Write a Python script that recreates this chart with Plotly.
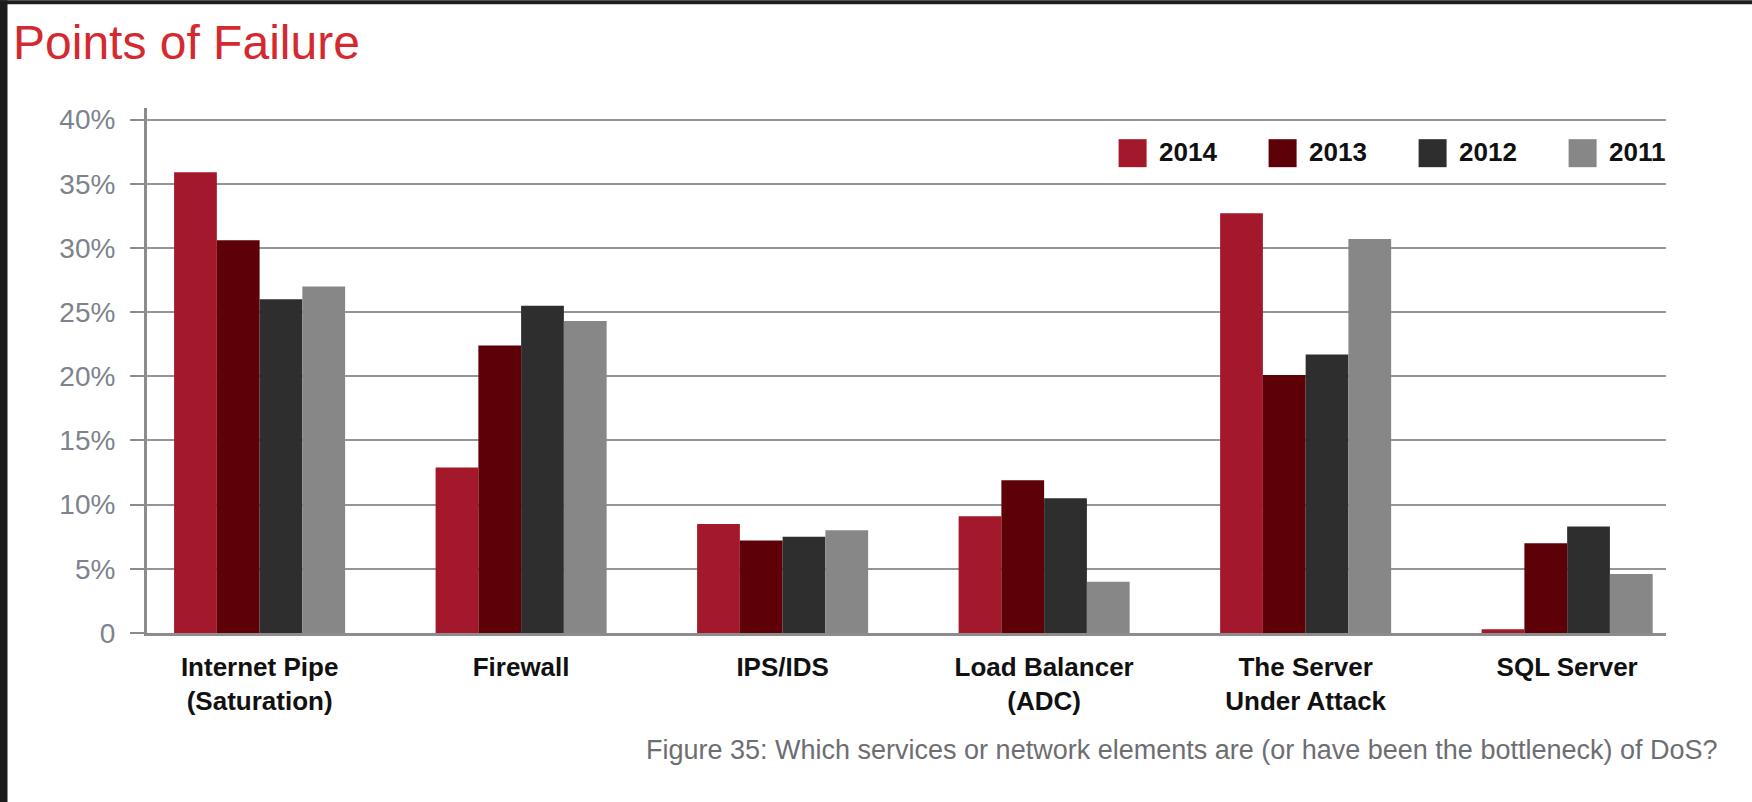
import plotly.graph_objects as go

# ---------------- data ----------------
categories = ["Internet Pipe<br>(Saturation)", "Firewall", "IPS/IDS",
              "Load Balancer<br>(ADC)", "The Server<br>Under Attack", "SQL Server"]
years = ["2014", "2013", "2012", "2011"]
v2014 = [35.9, 12.9, 8.5, 9.1, 32.7, 0.3]
v2013 = [30.6, 22.4, 7.2, 11.9, 20.1, 7.0]
v2012 = [26.0, 25.5, 7.5, 10.5, 21.7, 8.3]
v2011 = [27.0, 24.3, 8.0, 4.0, 30.7, 4.6]
y_tickvals = [0, 5, 10, 15, 20, 25, 30, 35, 40]
y_ticktext = ["0", "5%", "10%", "15%", "20%", "25%", "30%", "35%", "40%"]

series = [v2014, v2013, v2012, v2011]
colors = ["#a3182a", "#5e0007", "#2e2e2e", "#878787"]

# ---------------- layout constants (pixels) ----------------
W, H = 1752, 802
PL, PR = 147, 1666          # plot area left/right
PT, PB = 107.8, 633         # plot area top/bottom


def px_x(x):
    return (x - PL) / (PR - PL)


def px_y(y):
    return (PB - y) / (PB - PT)


fig = go.Figure()
idx = list(range(len(categories)))
for name, vals, col in zip(years, series, colors):
    fig.add_trace(go.Bar(x=idx, y=vals, name=name, marker=dict(color=col, line=dict(width=0)),
                         showlegend=False))

shapes = []
annotations = []

# manual legend (large square swatches like the reference)
for i, (name, col) in enumerate(zip(years, colors)):
    bx = 1118.6 + 150 * i
    shapes.append(dict(type="rect", xref="paper", yref="paper",
                       x0=px_x(bx), x1=px_x(bx + 28), y0=px_y(167), y1=px_y(139),
                       fillcolor=col, line=dict(width=0)))
    annotations.append(dict(text="<b>%s</b>" % name, xref="paper", yref="paper",
                            x=px_x(bx + 38), y=px_y(152), xanchor="left", yanchor="middle",
                            showarrow=False, font=dict(family="Liberation Sans, Arial", size=26, color="#111111")))

# caption
annotations.append(dict(text="Figure 35: Which services or network elements are (or have been the bottleneck) of DoS?",
                        xref="paper", yref="paper", x=px_x(1720), y=px_y(750),
                        xanchor="right", yanchor="middle", showarrow=False,
                        font=dict(family="Liberation Sans, Arial", size=27, color="#6d6e71")))

# dark frame on left and top edges
shapes.append(dict(type="rect", xref="paper", yref="paper", x0=px_x(0), x1=px_x(7.5),
                   y0=px_y(H), y1=px_y(0), fillcolor="#1c1c1c", line=dict(width=0), layer="above"))
shapes.append(dict(type="rect", xref="paper", yref="paper", x0=px_x(0), x1=px_x(W),
                   y0=px_y(4), y1=px_y(0), fillcolor="#1c1c1c", line=dict(width=0), layer="above"))

fig.update_layout(
    width=W, height=H,
    margin=dict(l=PL, r=W - PR, t=PT, b=H - PB, pad=0),
    paper_bgcolor="white", plot_bgcolor="white",
    barmode="group", bargap=0.346, bargroupgap=0,
    title=dict(text="Points of Failure", x=13 / W, xanchor="left", xref="container",
               y=1 - 42 / H, yanchor="middle", yref="container",
               font=dict(family="Liberation Sans, Arial", size=48, color="#d42a2f")),
    shapes=shapes, annotations=annotations,
    xaxis=dict(range=[-0.4306, 5.378], tickmode="array", tickvals=idx, ticktext=["<b>%s</b>" % c for c in categories],
               showgrid=False, zeroline=False, showline=True, linecolor="#8c8c8c", linewidth=3,
               ticks="", ticklabelstandoff=9,
               tickfont=dict(family="Liberation Sans, Arial", size=26, color="#111111")),
    yaxis=dict(range=[0, 40.9], tickmode="array", tickvals=y_tickvals, ticktext=y_ticktext,
               showgrid=True, gridcolor="#959595", gridwidth=2, zeroline=False,
               showline=True, linecolor="#8c8c8c", linewidth=3,
               ticks="outside", ticklen=14, tickwidth=2, tickcolor="#8c8c8c",
               ticklabelstandoff=9,
               tickfont=dict(family="Liberation Sans, Arial", size=28, color="#7d838c")),
)

fig.write_html("out.html")
